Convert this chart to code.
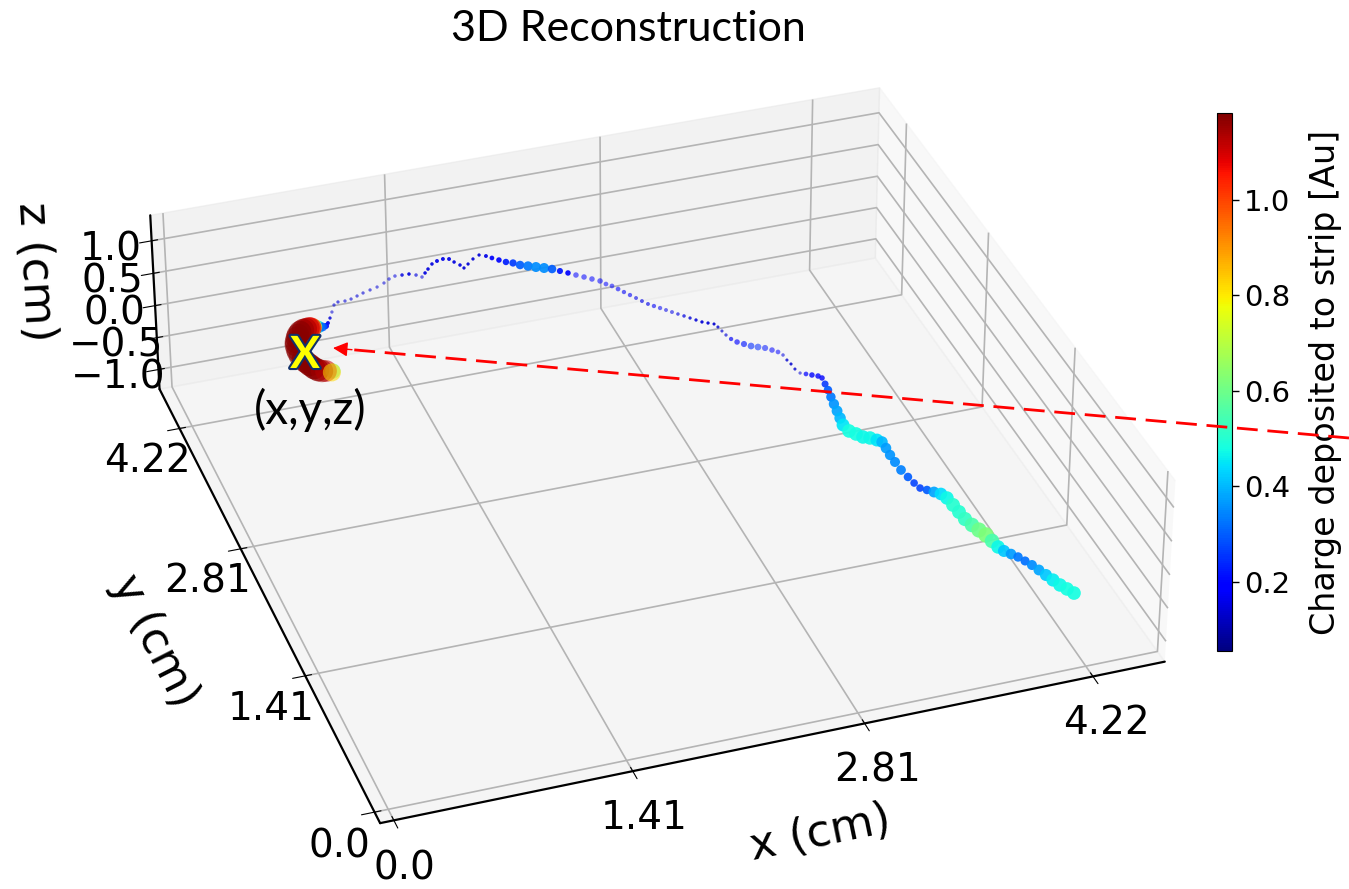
import numpy as np, matplotlib
matplotlib.use('Agg')
import matplotlib.pyplot as plt, seaborn as sns
from matplotlib.patches import FancyArrowPatch
from matplotlib.lines import Line2D
import matplotlib.patheffects as pe

sns.set_style('white')
plt.rcParams['font.family']='DejaVu Sans'
for k in ('text.color','axes.labelcolor','xtick.color','ytick.color','axes.edgecolor'):
    plt.rcParams[k]='black'

W,H=1349,889
track_x=[0.743,0.732,0.703,0.680,0.660,0.644,0.630,0.617,0.609,0.602,0.603,0.606,0.613,0.623,0.641,0.656,0.678,0.701,0.722,0.742,0.754,0.774,0.792,0.809,0.826,0.847,0.868,0.896,0.927,0.962,0.995,1.039,1.081,1.126,1.171,1.222,
1.273,1.327,1.370,1.415,1.460,1.504,1.542,1.570,1.602,1.633,1.674,1.714,1.756,1.792,1.811,1.835,1.848,1.886,1.933,1.983,2.020,2.048,2.082,2.116,2.154,2.188,2.231,2.274,2.318,2.361,2.400,2.440,2.479,2.519,2.558,2.598,
2.621,2.649,2.673,2.696,2.720,2.744,2.767,2.791,2.818,2.846,2.873,2.900,2.927,2.955,2.982,3.009,3.036,3.067,3.098,3.109,3.117,3.125,3.139,3.162,3.194,3.227,3.263,3.300,3.332,3.359,3.376,3.379,3.387,3.390,3.404,3.434,
3.464,3.495,3.510,3.504,3.497,3.487,3.477,3.468,3.458,3.448,3.459,3.487,3.514,3.550,3.581,3.602,3.601,3.597,3.598,3.601,3.613,3.624,3.638,3.669,3.700,3.731,3.749,3.756,3.762,3.768,3.784,3.803,3.823,3.833,3.843,3.860,
3.887,3.914,3.937,3.959,3.978,3.997,4.016,4.035,4.058,4.080]
track_y=[3.608,3.595,3.622,3.630,3.649,3.679,3.720,3.761,3.800,3.840,3.888,3.923,3.970,4.003,4.046,4.077,4.106,4.123,4.128,4.133,4.129,4.134,4.128,4.122,4.116,4.121,4.150,4.202,4.266,4.341,4.367,4.364,4.374,4.396,4.418,4.438,
4.457,4.489,4.524,4.546,4.543,4.540,4.514,4.479,4.519,4.558,4.608,4.632,4.643,4.630,4.585,4.538,4.496,4.533,4.581,4.614,4.588,4.553,4.515,4.478,4.452,4.414,4.386,4.358,4.330,4.302,4.263,4.224,4.184,4.145,4.106,4.067,
4.020,3.986,3.939,3.893,3.847,3.801,3.755,3.710,3.675,3.640,3.606,3.571,3.537,3.503,3.468,3.434,3.400,3.376,3.353,3.312,3.260,3.208,3.154,3.109,3.073,3.037,3.012,2.987,2.951,2.918,2.875,2.813,2.762,2.700,2.647,2.625,
2.602,2.579,2.550,2.480,2.410,2.331,2.251,2.172,2.092,2.014,1.940,1.895,1.850,1.826,1.791,1.761,1.691,1.612,1.531,1.438,1.354,1.281,1.219,1.186,1.152,1.119,1.067,0.986,0.905,0.824,0.752,0.689,0.627,0.557,0.487,0.437,
0.394,0.352,0.300,0.248,0.187,0.126,0.065,0.004,-0.047,-0.099]
track_z=[0.0]*len(track_x)
track_q=[.6,.82,1.1,1.15,1.17,1.17,1.17,1.17,1.17,1.17,1.17,1.17,1.17,1.17,1.17,1.17,1.17,1.15,1.13,1.1,1.05,.7,.5,.38,.3,.22,.16,
.14,.14,.14,.14,.14,.14,.14,.14,.14,.14,.14,.15,.15,.15,.15,.15,.15,.15,.15,.15,.16,.16,.16,.15,.15,.14,.14,.14,.14,
.16,.18,.2,.23,.26,.3,.33,.35,.35,.3,.22,.2,.2,.2,.2,.2,.18,.18,.18,.17,.17,.16,.16,.16,.17,.17,.16,.16,.15,.15,
.14,.14,.14,.14,.13,.13,.13,.14,.17,.2,.22,.24,.24,.22,.2,.18,.15,.13,.13,.13,.14,.18,.2,.2,.2,.25,.3,.33,.36,.38,
.4,.45,.48,.48,.47,.47,.45,.4,.37,.36,.35,.34,.3,.27,.27,.3,.38,.44,.47,.5,.5,.52,.55,.6,.62,.55,.47,.42,.37,.33,
.32,.35,.38,.42,.46,.47,.48,.48]
xy_ticks=[0,1.41,2.81,4.22]
xy_ticklabels=['0.0','1.41','2.81','4.22']
z_ticks=[-1,-.5,0,.5,1]
cb_ticks=[.2,.4,.6,.8,1.0]

fig=plt.figure(figsize=(W/100,H/100),dpi=100)
ax=fig.add_subplot(111,projection='3d')
xl=(-0.08,4.67);yl=(-0.11,4.70);zl=(-1.31,1.39)
ax.view_init(33.377,-109.014);ax.set_proj_type('persp',focal_length=0.9902);ax.set_box_aspect((3.9602,3.9254,1.0515))
s,cx,cy=6010.19,645.09,433.02
x0,x1=ax.viewLim.intervalx;y0,y1=ax.viewLim.intervaly
ax.set_position([(cx+s*x0)/W,(H-cy+s*y0)/H,s*(x1-x0)/W,s*(y1-y0)/H])
q=np.array(track_q)
d_px=np.interp(q,[.1,.15,.2,.35,.47,1.2],[2.5,3.5,5.5,10,13.5,23])
alpha=np.interp(q,[.14,.2,.3],[.55,.8,.92])
sc=ax.scatter(track_x,track_y,track_z,c=q,s=(d_px*.72)**2,cmap=matplotlib.colormaps['jet'],vmin=0.055,vmax=1.182,linewidths=0,alpha=alpha,depthshade=False)
ax.set_xlim(*xl);ax.set_ylim(*yl);ax.set_zlim(*zl)
ax.set_xticks(xy_ticks);ax.set_yticks(xy_ticks);ax.set_zticks(z_ticks)
ax.set_xticklabels(xy_ticklabels);ax.set_yticklabels(xy_ticklabels)
ax.tick_params(labelsize=28,pad=10)
ax.set_xlabel('x (cm)',fontsize=32,labelpad=38);ax.set_ylabel('y (cm)',fontsize=32,labelpad=38);ax.set_zlabel('z (cm)',fontsize=32,labelpad=32)
for a in (ax.xaxis,ax.yaxis,ax.zaxis):
    a._axinfo['grid'].update(color='#b4b4b4',linewidth=1.2)
    a.line.set_linewidth(1.6);a.line.set_color('k')
cax=fig.add_axes([1217/W,(H-651)/H,15/W,538/H])
cb=fig.colorbar(matplotlib.cm.ScalarMappable(norm=sc.norm,cmap=sc.cmap),cax=cax)
cb.set_ticks(cb_ticks)
cb.ax.tick_params(labelsize=21,length=5,width=1,left=False,right=True)
cb.set_label('Charge deposited to strip [Au]',fontsize=24,labelpad=14)
fig.text(628/W,1-29/H,'3D Reconstruction',fontsize=31,family='Lato',ha='center',va='center')
fig.text(310/W,1-410/H,'(x,y,z)',fontsize=33,family='Lato',ha='center',va='center')
t=fig.text(305/W,1-355/H,'X',fontsize=32,family='Lato',weight='bold',color='#ffff00',ha='center',va='center')
t.set_path_effects([pe.withStroke(linewidth=3,foreground='#10306a')])
fig.add_artist(Line2D([1349/W,350/W],[1-438/H,1-349.5/H],color='#ff0000',lw=2,dashes=(7.5,3.5),transform=fig.transFigure,zorder=5))
fig.add_artist(FancyArrowPatch((352/W,1-349.7/H),(333/W,1-348/H),transform=fig.transFigure,arrowstyle='-|>',mutation_scale=22,color='#ff0000',lw=1,shrinkA=0,shrinkB=0,zorder=5))
fig.savefig('out.png',dpi=100)
